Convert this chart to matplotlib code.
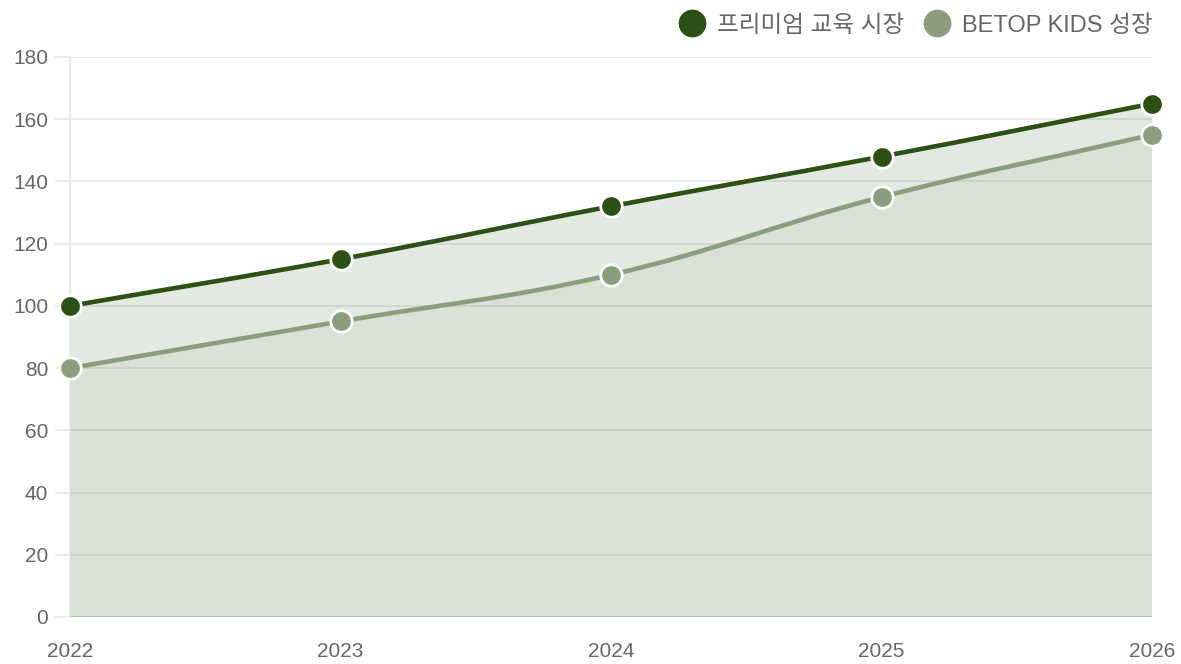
import matplotlib
matplotlib.use("Agg")
import matplotlib.pyplot as plt
from matplotlib.path import Path
from matplotlib.patches import PathPatch
from matplotlib.lines import Line2D
import numpy as np

plt.rcParams['font.family'] = ['Liberation Sans', 'Noto Sans CJK KR', 'DejaVu Sans']

years = [2022, 2023, 2024, 2025, 2026]
premium = [100, 115, 132, 148, 165]
betop = [80, 95, 110, 135, 155]
series_names = ['프리미엄 교육 시장', 'BETOP KIDS 성장']
y_ticks = [0, 20, 40, 60, 80, 100, 120, 140, 160, 180]

dark = '#2d5016'
light = '#8a9e7e'

fig = plt.figure(figsize=(11.81, 6.64), dpi=100)
ax = fig.add_axes([70/1181, 1-617/664, (1152-70)/1181, (617-57)/664])
ax.set_xlim(years[0], years[-1])
ax.set_ylim(0, 180)

# pixel scale factors for Chart.js-like spline distance computation
sx = (1152 - 70) / (years[-1] - years[0])
sy = (617 - 57) / 180.0


def spline_path(xs, ys, tension=0.4):
    xs = np.asarray(xs, float)
    ys = np.asarray(ys, float)
    n = len(xs)
    cps = []
    for i in range(n):
        px, py = (xs[i-1], ys[i-1]) if i > 0 else (xs[i], ys[i])
        nx, ny = (xs[i+1], ys[i+1]) if i < n-1 else (xs[i], ys[i])
        cx, cy = xs[i], ys[i]
        d01 = np.hypot((cx-px)*sx, (cy-py)*sy)
        d12 = np.hypot((nx-cx)*sx, (ny-cy)*sy)
        tot = d01 + d12
        s01 = d01/tot if tot else 0
        s12 = d12/tot if tot else 0
        fa = tension*s01
        fb = tension*s12
        prev_cp = (cx - fa*(nx-px), cy - fa*(ny-py))
        next_cp = (cx + fb*(nx-px), cy + fb*(ny-py))
        cps.append((prev_cp, next_cp))
    verts = [(xs[0], ys[0])]
    codes = [Path.MOVETO]
    for i in range(n-1):
        verts += [cps[i][1], cps[i+1][0], (xs[i+1], ys[i+1])]
        codes += [Path.CURVE4]*3
    return verts, codes


for vals, col, falpha in [(premium, dark, 0.13), (betop, light, 0.10)]:
    verts, codes = spline_path(years, vals)
    fverts = verts + [(years[-1], 0), (years[0], 0), (years[0], vals[0])]
    fcodes = codes + [Path.LINETO, Path.LINETO, Path.CLOSEPOLY]
    ax.add_patch(PathPatch(Path(fverts, fcodes), facecolor=col, alpha=falpha,
                           edgecolor='none', zorder=2))

for vals, col in [(premium, dark), (betop, light)]:
    verts, codes = spline_path(years, vals)
    ax.add_patch(PathPatch(Path(verts, codes), facecolor='none', edgecolor=col,
                           lw=3.3, zorder=3, capstyle='round', joinstyle='round'))
    ax.plot(years, vals, 'o', ms=15.5, mfc=col, mec='white', mew=2, zorder=4,
            clip_on=False)

ax.set_yticks(y_ticks)
ax.set_xticks(years)
ax.set_xticklabels([str(y) for y in years])
ax.grid(axis='y', color='#e4e4e4', lw=1.1, zorder=0)
ax.set_axisbelow(True)
for s in ['top', 'right', 'bottom']:
    ax.spines[s].set_visible(False)
ax.spines['left'].set_color('#e4e4e4')
ax.spines['left'].set_linewidth(1.1)
ax.axhline(0, color='#d0d0d0', lw=1.3, zorder=1)
ax.tick_params(axis='y', length=10.8, width=1.1, color='#e4e4e4', pad=5,
               labelsize=15, labelcolor='#666666')
ax.tick_params(axis='x', length=0, pad=18, labelsize=15, labelcolor='#666666')

handles = [Line2D([], [], marker='o', ls='none', ms=21, mfc=dark, mec='white', mew=1.0),
           Line2D([], [], marker='o', ls='none', ms=21, mfc=light, mec='white', mew=1.0)]
leg = fig.legend(handles, series_names, loc='upper right',
                 bbox_to_anchor=(1174/1181, 1.01), ncol=2, frameon=False,
                 handletextpad=0.4, columnspacing=0.75,
                 handlelength=1.3, labelcolor='#666666',
                 prop={'family': ['Liberation Sans', 'Noto Sans CJK KR', 'DejaVu Sans'],
                       'size': 17})

fig.savefig('out.png', dpi=100)
